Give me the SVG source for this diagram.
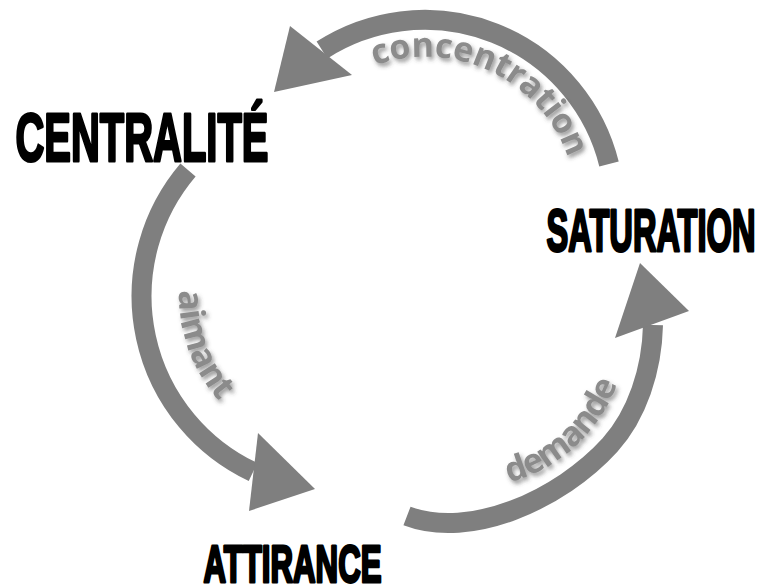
<svg xmlns="http://www.w3.org/2000/svg" width="761" height="588" viewBox="0 0 761 588">
<style>
.band{fill:none;stroke:#7f7f7f;stroke-width:20;stroke-linecap:butt}
.head{fill:#7f7f7f}
.title{font-family:"Liberation Sans",Arial,sans-serif;font-weight:700;fill:#000;stroke:#000;stroke-width:3;stroke-linejoin:round}
.lbl{font-family:"Open Sans","DejaVu Sans",sans-serif;font-weight:700;font-size:34px;fill:#8b8b8b}
</style>
<defs>
<filter id="sh" x="-20%" y="-20%" width="140%" height="140%">
<feGaussianBlur in="SourceAlpha" stdDeviation="2"/>
<feOffset dx="2" dy="3" result="b"/>
<feFlood flood-color="#404040" flood-opacity="0.55"/>
<feComposite in2="b" operator="in"/>
<feMerge><feMergeNode/><feMergeNode in="SourceGraphic"/></feMerge>
</filter>
<path id="pc" d="M 368.1 68.1 A 151 151 0 0 1 571.8 169.7"/>
<path id="pa" d="M 181.4 268.7 A 158 158 0 0 0 235.1 416.3"/>
<path id="pd" d="M 495.6 485.6 A 160 160 0 0 0 623.5 362.1"/>
</defs>
<rect width="761" height="588" fill="#fff"/>
<g id="connectors">
<g id="arrow-concentration">
<path class="band" d="M 609 164 A 190 190 0 0 0 322 50"/>
<polygon class="head" points="290,26 274,92 352,75"/>
<text class="lbl" filter="url(#sh)"><textPath href="#pc" startOffset="7" textLength="238">concentration</textPath></text>
</g>
<g id="arrow-aimant">
<path class="band" d="M 188 170 A 194.5 194.5 0 0 0 253 472"/>
<polygon class="head" points="258,433 315,489 249,511"/>
<text class="lbl" filter="url(#sh)"><textPath href="#pa" startOffset="22" textLength="120">aimant</textPath></text>
</g>
<g id="arrow-demande">
<path class="band" d="M 407 516 C 470 540, 560 500, 610 445 C 637 415, 652 370, 653 325"/>
<polygon class="head" points="640,263 689,311 615,338"/>
<text class="lbl" filter="url(#sh)"><textPath href="#pd" startOffset="14" textLength="152">demande</textPath></text>
</g>
</g>
<g id="node-centralite">
<text class="title" x="15.5" y="160.5" font-size="69" textLength="253" lengthAdjust="spacingAndGlyphs">CENTRALITÉ</text>
</g>
<g id="node-saturation">
<text class="title" x="546.5" y="250.5" font-size="59" textLength="209" lengthAdjust="spacingAndGlyphs">SATURATION</text>
</g>
<g id="node-attirance">
<text class="title" x="203.5" y="581.5" font-size="51" textLength="178" lengthAdjust="spacingAndGlyphs">ATTIRANCE</text>
</g>
</svg>
